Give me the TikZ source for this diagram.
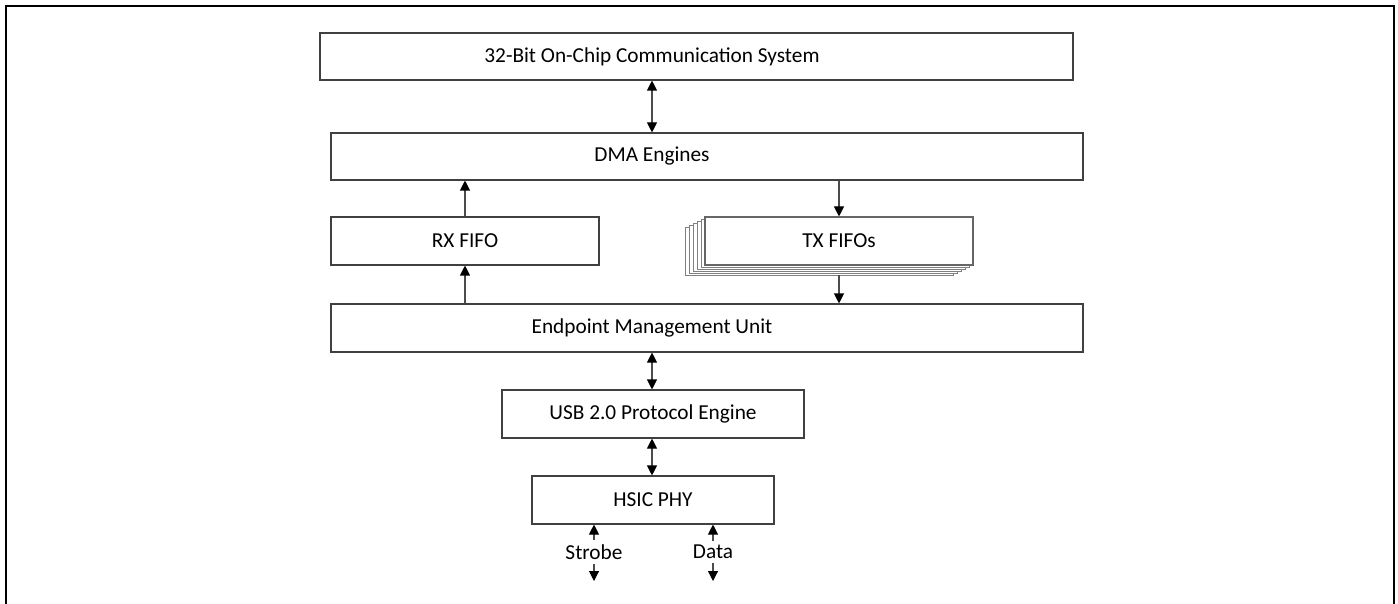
\documentclass[tikz,border=0pt]{standalone}
\usepackage{fontspec}
\setmainfont{Carlito}
\usetikzlibrary{arrows.meta}

\begin{document}
\begin{tikzpicture}[x=1pt,y=-1pt,
    >={Triangle[length=10pt,width=10pt,color=black]},
    box/.style={draw=black!75, line width=1.1pt, fill=white, inner sep=0pt, minimum height=48pt},
    conn/.style={draw=black!70, line width=1.1pt, ->},
    both/.style={draw=black!70, line width=1.1pt, <->}]
    \fontsize{21.3}{25}\selectfont
    \useasboundingbox (0,0) rectangle (1398,604);
    \clip (0,0) rectangle (1398,604);
    %\draw[help lines] (0,0) grid[step=50] (1398,604);
    \draw[line width=2.7pt] (6,6) rectangle (1394,660);
    \coordinate (axis) at (652,0);
    % stack of blocks
    \node[box, minimum width=753pt, minimum height=47pt, label={[xshift=-44.5pt]center:32-Bit On-Chip Communication System}] (comm) at (696.5,56.5) {};
    \node[box, minimum width=752pt, minimum height=47pt, label={[xshift=-55pt]center:DMA Engines}] (dma) at (707,156.5) {};
    \node[box, minimum width=268pt] (rx) at (465,241) {RX FIFO};
    \foreach \k in {5,...,1}
        \node[box, draw=black!50, line width=0.9pt, minimum width=268pt] (tx\k) at (839-4*\k,241+2*\k) {};
    \node[box, draw=black!60, minimum width=268pt] (tx) at (839,241) {TX FIFOs};
    \node[box, minimum width=752pt, label={[xshift=-55pt]center:Endpoint Management Unit}] (emu) at (707,328) {};
    \node[box, minimum width=302pt] (usb) at (653,414) {USB 2.0 Protocol Engine};
    \node[box, minimum width=242pt] (hsic) at (653,500) {HSIC PHY};
    % pins
    \node[inner sep=4pt] (strobe) at (594,552) {Strobe};
    \node[inner sep=4pt] (data) at (713,552) {Data};
    \coordinate (strobeout) at (594,581);
    \coordinate (dataout) at (713,581);
    % connectors
    \draw[both] (comm.south -| axis) -- (dma.north -| axis);
    \draw[conn] (rx.north) -- (rx.north |- dma.south);
    \draw[conn] (tx.north |- dma.south) -- (tx.north);
    \draw[conn] (rx.south |- emu.north) -- (rx.south);
    \draw[conn] (tx.south |- tx5.south) -- (tx.south |- emu.north);
    \draw[both] (emu.south -| axis) -- (usb.north -| axis);
    \draw[both] (usb.south -| axis) -- (hsic.north -| axis);
    \draw[conn] (strobe.north) -- (strobe.north |- hsic.south);
    \draw[conn] (strobe.south) -- (strobeout);
    \draw[conn] (data.north) -- (data.north |- hsic.south);
    \draw[conn] (data.south) -- (dataout);
\end{tikzpicture}
\end{document}
